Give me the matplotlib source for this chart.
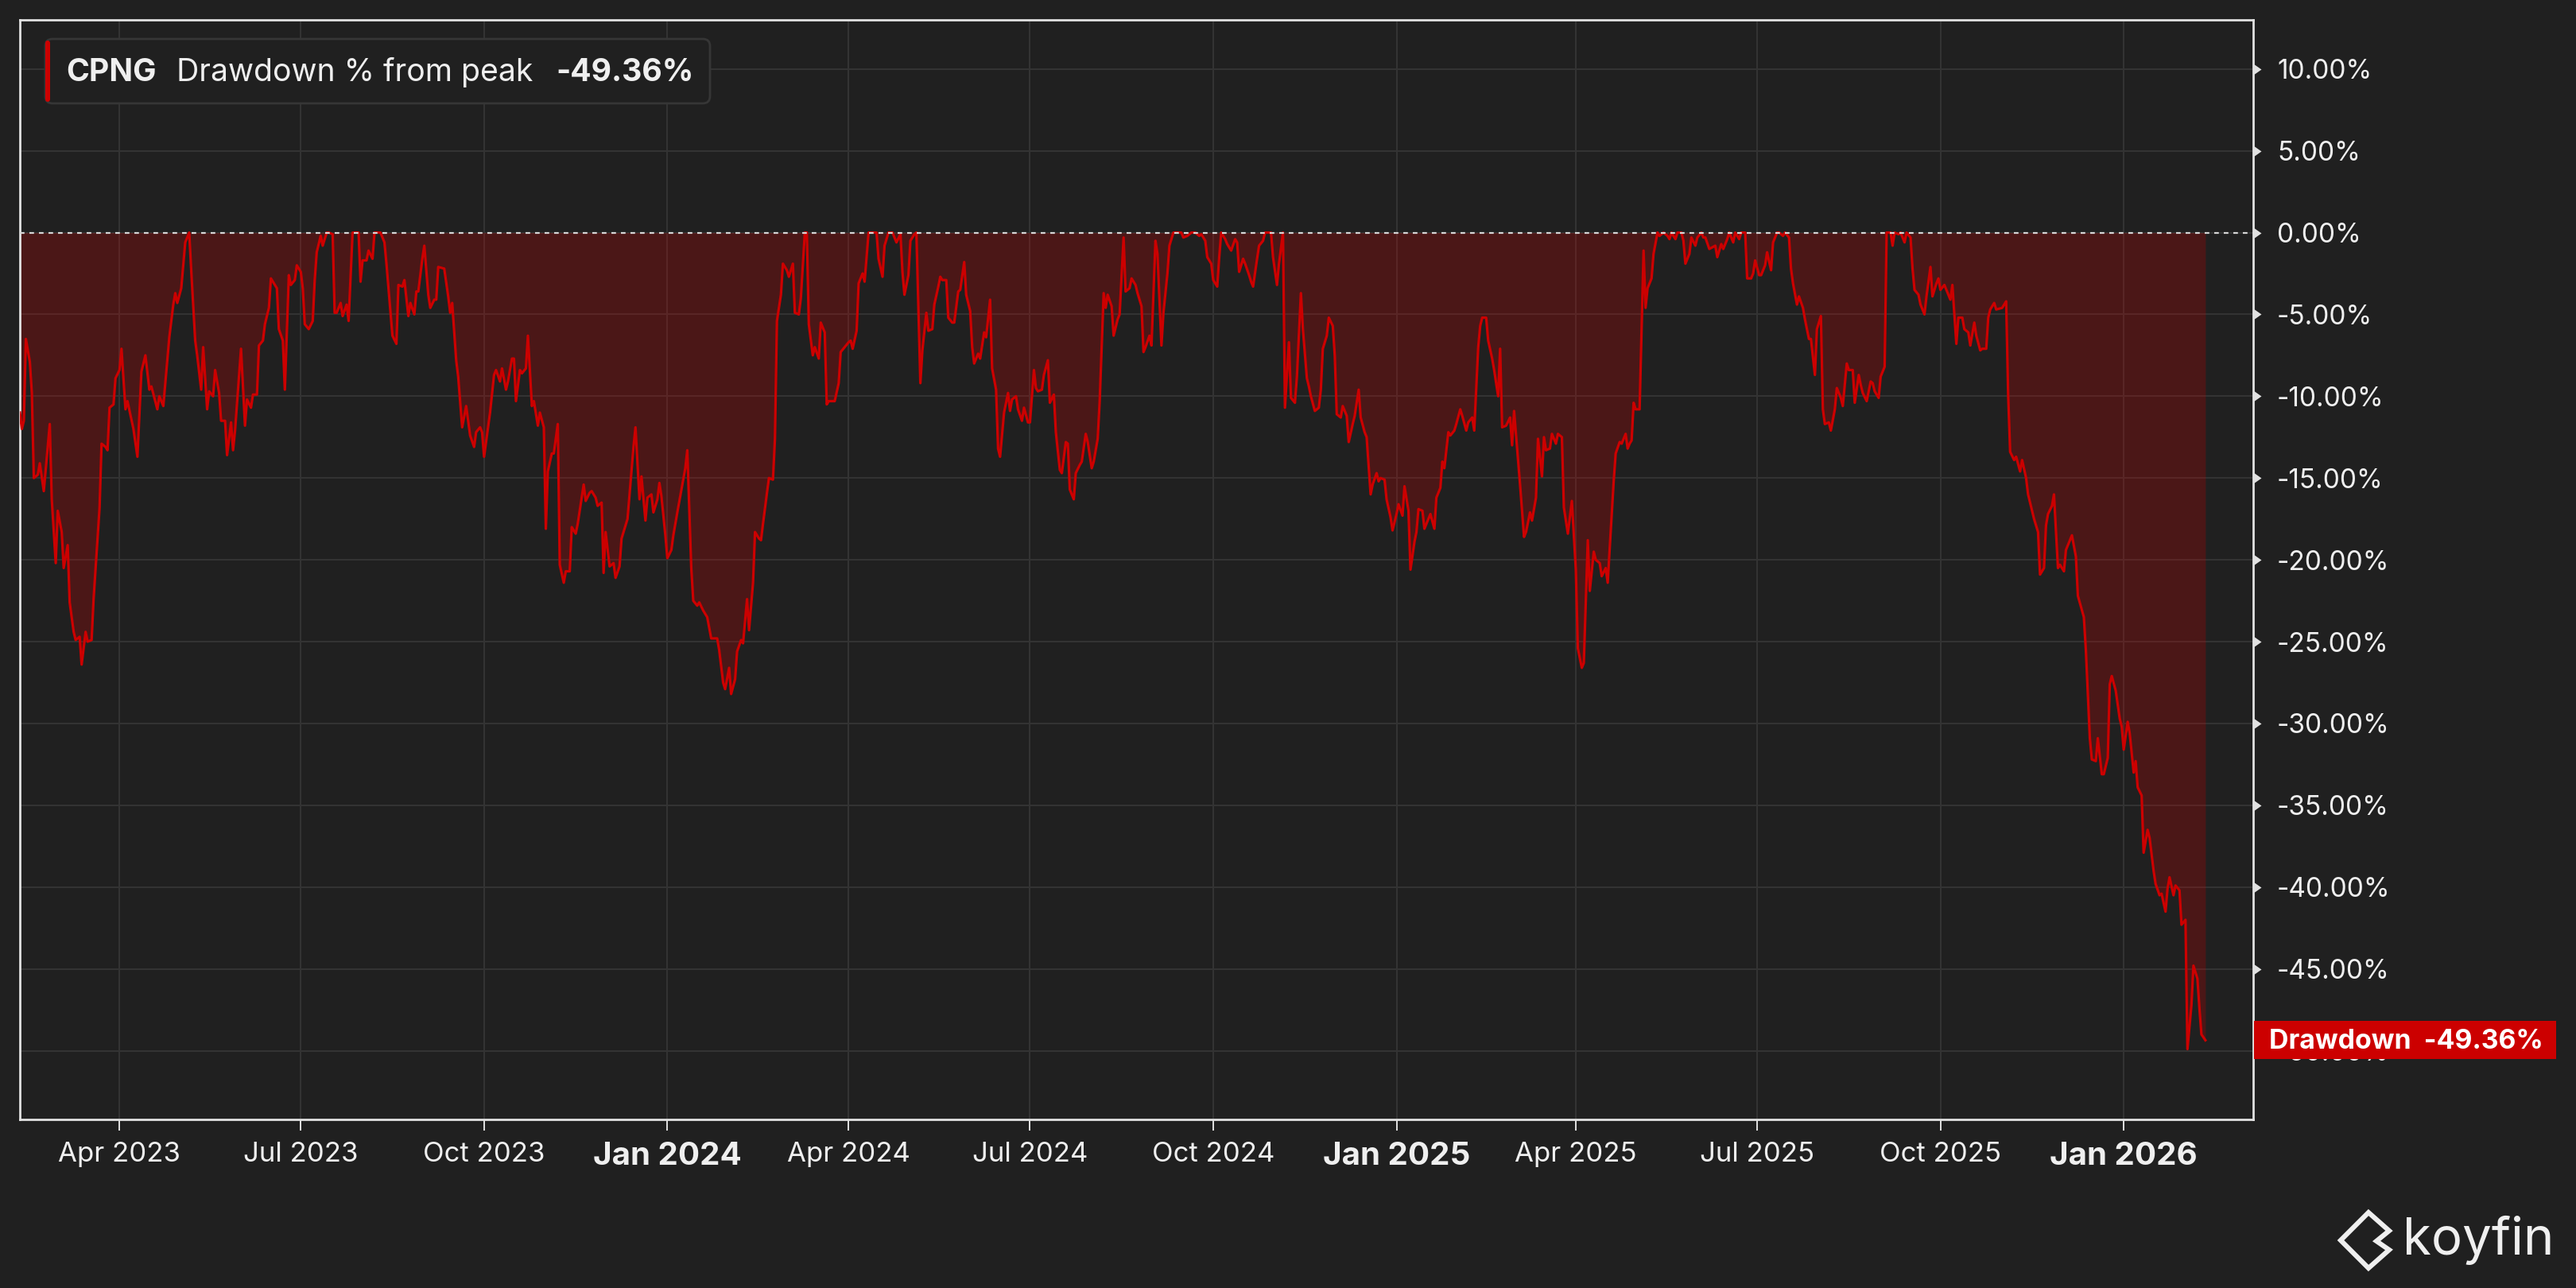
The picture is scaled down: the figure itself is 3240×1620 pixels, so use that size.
import matplotlib
matplotlib.use("Agg")

import matplotlib.pyplot as plt
import pandas as pd
from matplotlib.patches import FancyBboxPatch, Rectangle, Polygon
from matplotlib.path import Path

TICKER = "CPNG"
SERIES_NAME = "Drawdown % from peak"
LAST_LABEL = "-49.36%"
START_DATE = "2023-02-10"
AXIS_DAYS = 1121

# days after START_DATE
day_offset = [
    0, 1, 2, 3, 5, 6, 7, 9, 10, 12,
    15, 16, 18, 19, 21, 22, 24, 25, 27, 28,
    30, 31, 33, 34, 36, 37, 40, 41, 43, 44,
    45, 47, 48, 50, 51, 53, 54, 57, 59, 61,
    63, 65, 66, 69, 70, 72, 73, 75, 77, 78,
    79, 81, 83, 85, 86, 88, 89, 91, 92, 94,
    95, 97, 98, 100, 101, 103, 104, 106, 107, 108,
    111, 113, 114, 116, 117, 119, 120, 122, 123, 125,
    126, 128, 129, 130, 132, 133, 135, 136, 138, 139,
    141, 142, 143, 145, 147, 148, 149, 151, 152, 154,
    155, 157, 158, 159, 161, 162, 164, 165, 167, 170,
    171, 172, 174, 175, 177, 178, 181, 183, 184, 187,
    189, 190, 192, 193, 195, 196, 198, 199, 200, 202,
    203, 205, 206, 208, 209, 210, 213, 215, 216, 217,
    219, 220, 222, 224, 226, 228, 229, 231, 232, 233,
    236, 238, 239, 241, 242, 244, 245, 247, 248, 249,
    251, 252, 254, 255, 257, 258, 260, 261, 263, 264,
    265, 267, 268, 270, 271, 273, 274, 276, 277, 279,
    280, 283, 284, 286, 287, 289, 290, 292, 293, 294,
    296, 298, 299, 301, 302, 305, 308, 309, 311, 312,
    314, 315, 317, 318, 320, 321, 322, 324, 325, 327,
    328, 330, 334, 335, 337, 338, 340, 341, 343, 345,
    347, 350, 351, 353, 354, 356, 357, 359, 360, 362,
    363, 365, 366, 368, 369, 371, 372, 373, 375, 376,
    378, 379, 380, 382, 383, 385, 386, 388, 389, 391,
    392, 394, 395, 396, 398, 399, 401, 402, 404, 405,
    406, 409, 411, 412, 414, 416, 417, 418, 420, 421,
    423, 424, 426, 430, 431, 433, 434, 436, 438, 440,
    442, 443, 444, 446, 447, 449, 450, 452, 453, 455,
    456, 458, 459, 461, 462, 463, 465, 466, 468, 469,
    471, 472, 474, 475, 477, 478, 479, 481, 482, 484,
    485, 487, 488, 490, 491, 492, 494, 496, 497, 498,
    500, 501, 503, 504, 506, 507, 509, 510, 511, 513,
    514, 516, 517, 519, 520, 522, 523, 525, 526, 527,
    529, 530, 532, 533, 535, 536, 538, 539, 541, 542,
    544, 545, 546, 548, 549, 551, 552, 554, 555, 557,
    558, 560, 561, 563, 564, 565, 567, 568, 570, 571,
    573, 574, 576, 577, 579, 583, 584, 586, 588, 590,
    592, 593, 595, 596, 598, 599, 601, 602, 603, 605,
    606, 608, 610, 611, 612, 614, 615, 617, 618, 619,
    621, 622, 624, 625, 628, 629, 631, 632, 634, 635,
    637, 638, 640, 641, 643, 644, 646, 647, 648, 650,
    652, 653, 654, 656, 657, 659, 660, 661, 663, 664,
    666, 667, 669, 670, 672, 673, 675, 676, 678, 679,
    681, 682, 683, 685, 686, 688, 689, 691, 692, 694,
    695, 697, 698, 700, 701, 702, 704, 705, 707, 708,
    710, 711, 713, 714, 715, 717, 718, 720, 721, 723,
    724, 726, 727, 729, 730, 732, 733, 734, 736, 737,
    739, 740, 742, 743, 744, 746, 748, 749, 750, 752,
    753, 755, 756, 758, 759, 761, 762, 764, 765, 766,
    768, 769, 771, 772, 774, 775, 777, 778, 779, 781,
    782, 784, 785, 787, 788, 790, 791, 793, 794, 796,
    797, 798, 800, 801, 803, 804, 806, 807, 808, 809,
    810, 811, 813, 815, 816, 817, 819, 820, 822, 823,
    825, 827, 828, 829, 831, 832, 834, 835, 836, 838,
    839, 841, 842, 844, 845, 846, 848, 851, 852, 854,
    855, 857, 858, 860, 861, 863, 864, 866, 867, 869,
    870, 871, 873, 874, 876, 877, 879, 880, 882, 883,
    885, 886, 888, 889, 890, 892, 893, 895, 896, 898,
    899, 901, 902, 904, 905, 906, 908, 909, 911, 912,
    914, 915, 917, 918, 920, 921, 923, 924, 925, 927,
    929, 930, 931, 933, 934, 936, 937, 939, 940, 941,
    943, 944, 946, 947, 949, 950, 951, 953, 954, 956,
    957, 959, 960, 962, 963, 964, 966, 967, 969, 970,
    972, 973, 975, 976, 978, 979, 981, 982, 984, 985,
    987, 988, 989, 991, 992, 995, 997, 998, 999, 1001,
    1002, 1004, 1005, 1007, 1008, 1010, 1011, 1013, 1014, 1016,
    1017, 1018, 1020, 1021, 1023, 1024, 1026, 1027, 1028, 1030,
    1032, 1033, 1036, 1037, 1039, 1040, 1042, 1043, 1045, 1046,
    1048, 1049, 1050, 1052, 1054, 1055, 1056, 1058, 1059, 1061,
    1062, 1063, 1065, 1066, 1068, 1069, 1071, 1072, 1074, 1075,
    1077, 1078, 1079, 1081, 1082, 1084, 1085, 1087, 1088, 1090,
    1091, 1093, 1094, 1095, 1097,
]

drawdown_pct = [
    -11.0, -12.0, -11.5, -6.5, -7.9, -9.8, -15.0, -14.8, -14.1, -15.8,
    -11.7, -16.3, -20.2, -17.0, -18.3, -20.5, -19.1, -22.6, -24.4, -24.9,
    -24.7, -26.4, -24.4, -25.0, -24.9, -22.4, -16.8, -12.9, -13.1, -13.3,
    -10.7, -10.5, -8.9, -8.4, -7.1, -10.8, -10.3, -12.0, -13.7, -8.5,
    -7.5, -9.6, -9.4, -10.8, -10.0, -10.6, -9.2, -6.4, -4.4, -3.7,
    -4.3, -3.4, -0.6, 0.0, -2.3, -6.6, -7.5, -9.6, -7.0, -10.8,
    -9.7, -10.0, -8.4, -9.8, -11.5, -11.5, -13.6, -11.6, -13.3, -12.1,
    -7.1, -11.8, -10.2, -10.7, -9.9, -9.9, -6.9, -6.6, -5.6, -4.6,
    -2.8, -3.2, -3.4, -5.9, -6.6, -9.6, -2.6, -3.2, -2.9, -2.0,
    -2.4, -3.4, -5.6, -5.9, -5.4, -2.9, -1.2, -0.2, -0.8, 0.0,
    0.0, -0.1, -4.9, -4.9, -4.3, -5.1, -4.4, -5.4, 0.0, 0.0,
    -3.0, -1.7, -1.7, -1.1, -1.6, 0.0, 0.0, -0.6, -1.9, -6.3,
    -6.8, -3.2, -3.3, -2.9, -5.1, -4.3, -5.0, -3.6, -3.6, -1.6,
    -0.8, -3.8, -4.6, -4.1, -4.1, -2.1, -2.2, -3.9, -4.9, -4.3,
    -7.8, -8.8, -11.9, -10.6, -12.4, -13.1, -12.2, -11.9, -12.2, -13.7,
    -11.0, -8.7, -8.4, -9.1, -8.3, -9.6, -9.1, -7.7, -7.7, -10.3,
    -8.4, -8.6, -8.3, -6.3, -10.6, -10.3, -11.8, -11.0, -11.9, -18.1,
    -14.6, -13.5, -13.5, -11.7, -20.3, -21.4, -20.7, -20.7, -18.0, -18.4,
    -17.8, -15.4, -16.4, -15.9, -15.8, -16.2, -16.7, -16.5, -20.8, -18.3,
    -20.4, -20.2, -21.1, -20.4, -18.7, -17.5, -13.1, -11.9, -16.3, -14.9,
    -17.6, -16.2, -16.0, -17.1, -16.3, -15.3, -16.1, -18.5, -19.9, -19.4,
    -18.5, -17.1, -14.4, -13.3, -20.5, -22.5, -22.8, -22.6, -23.1, -23.5,
    -24.8, -24.8, -25.5, -27.5, -27.9, -26.6, -28.2, -27.3, -25.6, -24.9,
    -25.1, -22.4, -24.3, -21.4, -18.3, -18.7, -18.8, -17.8, -15.9, -15.0,
    -15.1, -12.6, -5.4, -3.8, -1.9, -2.3, -2.7, -1.9, -4.9, -5.0,
    -4.0, 0.0, 0.0, -5.6, -7.5, -7.0, -7.7, -5.5, -6.1, -10.5,
    -10.3, -10.3, -9.2, -7.3, -7.0, -6.7, -6.6, -7.1, -6.0, -3.1,
    -2.5, -3.0, 0.0, 0.0, -1.6, -2.7, -0.8, 0.0, 0.0, -0.6,
    -0.1, -2.4, -3.8, -2.6, -0.5, -0.1, 0.0, -9.2, -7.2, -4.9,
    -6.0, -5.9, -4.4, -3.3, -2.7, -2.9, -2.9, -5.2, -5.5, -5.5,
    -3.6, -3.5, -1.8, -3.8, -4.8, -7.0, -8.0, -7.4, -7.7, -6.1,
    -6.4, -4.1, -8.3, -9.6, -13.2, -13.7, -11.0, -9.8, -10.9, -10.2,
    -10.0, -10.8, -11.5, -10.7, -11.6, -11.6, -8.4, -9.5, -9.7, -9.6,
    -8.7, -7.8, -10.4, -9.9, -12.2, -14.5, -14.7, -12.8, -12.9, -15.7,
    -16.3, -14.7, -14.2, -14.0, -12.3, -12.8, -14.4, -14.0, -12.6, -10.3,
    -3.7, -4.6, -3.8, -4.5, -6.3, -5.3, -5.0, -0.3, -3.6, -3.4,
    -2.8, -3.2, -3.7, -4.5, -7.3, -7.0, -6.3, -6.9, -0.5, -1.3,
    -6.9, -4.9, -2.5, -0.8, 0.0, 0.0, -0.3, -0.2, 0.0, 0.0,
    -0.2, -0.1, -0.5, -1.5, -1.9, -2.9, -3.3, -1.5, 0.0, -0.4,
    -0.7, -1.1, -0.4, -0.6, -2.4, -1.6, -1.9, -2.6, -3.0, -3.3,
    -1.6, -0.8, -0.5, 0.0, 0.0, -1.5, -3.2, -1.9, 0.0, -10.7,
    -6.7, -10.1, -10.4, -8.8, -3.7, -5.9, -8.9, -9.4, -10.0, -10.9,
    -10.7, -9.6, -7.1, -6.3, -5.2, -5.7, -7.5, -11.1, -11.3, -10.6,
    -11.2, -12.8, -11.7, -11.2, -9.6, -11.3, -12.2, -12.5, -16.0, -15.4,
    -14.7, -15.2, -15.0, -15.1, -16.3, -17.4, -18.2, -17.2, -16.6, -17.3,
    -15.5, -17.0, -20.6, -18.9, -18.3, -16.9, -17.0, -18.1, -17.5, -17.2,
    -18.1, -16.2, -15.6, -14.0, -14.4, -12.2, -12.4, -12.1, -11.7, -10.8,
    -11.2, -12.1, -11.6, -11.3, -12.1, -7.0, -5.7, -5.2, -5.2, -6.6,
    -7.7, -8.4, -10.0, -7.1, -11.9, -11.8, -11.3, -13.0, -10.9, -13.9,
    -15.4, -18.6, -18.3, -17.1, -17.6, -16.2, -12.6, -14.9, -12.5, -13.3,
    -13.2, -12.3, -12.9, -12.3, -12.5, -16.8, -18.4, -17.4, -16.4, -20.6,
    -25.4, -26.6, -26.3, -18.8, -21.9, -19.5, -20.0, -20.2, -21.0, -20.5,
    -21.4, -19.3, -15.2, -13.5, -12.8, -12.9, -12.3, -13.2, -12.9, -12.7,
    -10.4, -10.8, -10.8, -1.1, -4.6, -3.4, -2.8, -1.3, 0.0, -0.2,
    0.0, -0.2, -0.4, 0.0, -0.4, 0.0, 0.0, -0.5, -1.9, -1.3,
    -0.3, -0.8, -0.3, 0.0, -0.3, -0.3, -1.0, -0.8, -1.5, -0.7,
    -1.0, -0.4, 0.0, -0.6, 0.0, -0.4, 0.0, 0.0, -2.8, -2.8,
    -2.5, -1.7, -2.6, -2.6, -2.0, -1.2, -2.3, -0.6, 0.0, 0.0,
    -0.2, 0.0, -0.3, -2.2, -3.1, -4.4, -3.9, -4.6, -5.3, -6.5,
    -6.5, -8.7, -5.9, -5.1, -10.8, -11.7, -11.6, -12.1, -10.8, -9.5,
    -10.1, -10.6, -8.0, -8.4, -8.4, -10.4, -8.7, -9.3, -9.8, -10.3,
    -9.1, -9.2, -9.7, -10.1, -8.8, -8.2, 0.0, 0.0, -0.8, 0.0,
    -0.1, 0.0, -0.6, 0.0, -0.3, -2.2, -3.5, -3.8, -4.4, -5.0,
    -3.9, -2.1, -3.9, -3.1, -2.8, -3.5, -3.2, -3.5, -4.1, -3.2,
    -6.8, -5.2, -5.2, -5.9, -6.1, -6.9, -5.5, -6.3, -7.2, -7.1,
    -7.1, -5.2, -4.7, -4.3, -4.7, -4.6, -4.2, -9.9, -13.4, -13.9,
    -13.7, -14.6, -13.9, -15.0, -16.0, -17.0, -17.5, -18.3, -20.9, -20.5,
    -17.9, -17.2, -16.7, -16.0, -20.5, -20.3, -20.7, -19.4, -19.1, -18.5,
    -19.8, -22.2, -23.5, -25.5, -30.9, -32.2, -32.3, -30.9, -33.1, -33.1,
    -32.1, -27.6, -27.1, -28.0, -29.7, -30.2, -31.6, -29.9, -30.6, -33.0,
    -32.3, -33.9, -34.4, -37.9, -36.5, -37.0, -39.0, -39.8, -40.5, -40.4,
    -41.5, -40.1, -39.4, -40.5, -39.9, -40.2, -42.3, -42.0, -49.9, -47.2,
    -44.8, -45.6, -47.4, -49.0, -49.36,
]

y_ticks = [10, 5, 0, -5, -10, -15, -20, -25, -30, -35, -40, -45, -50]
x_tick_dates = [
    "2023-04-01", "2023-07-01", "2023-10-01", "2024-01-01",
    "2024-04-01", "2024-07-01", "2024-10-01", "2025-01-01",
    "2025-04-01", "2025-07-01", "2025-10-01", "2026-01-01",
]
x_tick_labels = [
    "Apr 2023", "Jul 2023", "Oct 2023", "Jan 2024",
    "Apr 2024", "Jul 2024", "Oct 2024", "Jan 2025",
    "Apr 2025", "Jul 2025", "Oct 2025", "Jan 2026",
]

BG = "#202020"
GRID = "#333333"
RED = "#cc0000"
TEXT = "#efefef"
SPINE = "#e2e2e2"

plt.rcParams["font.family"] = ["Inter", "DejaVu Sans"]

W, H, DPI = 3240, 1620, 200
L, R, T, B = 25, 2834, 25, 1408

fig = plt.figure(figsize=(W / DPI, H / DPI), dpi=DPI)
fig.patch.set_facecolor(BG)
ax = fig.add_axes([L / W, 1 - B / H, (R - L) / W, (B - T) / H])
ax.set_facecolor(BG)


def px(x, y):
    # reference pixel (origin top-left) -> figure inches
    return x / DPI, (H - y) / DPI


start = pd.Timestamp(START_DATE)
dates = start + pd.to_timedelta(day_offset, unit="D")

ax.fill_between(dates, drawdown_pct, 0, color=RED, alpha=0.25, lw=0, zorder=2)
ax.plot(dates, drawdown_pct, color=RED, lw=1.15, zorder=4)
ax.axhline(0, color="#d6d6d6", lw=0.8, ls=(0, (2.6, 2.8)), zorder=5)

ax.set_xlim(start, start + pd.Timedelta(days=AXIS_DAYS))
ax.set_ylim(-54.2, 13.0)

# right-hand percent axis
ax.set_yticks(y_ticks)
ax.set_yticklabels([f"{v:.2f}%" for v in y_ticks])
ax.yaxis.tick_right()
ax.tick_params(axis="y", length=0, pad=10.8, labelsize=12, labelcolor=TEXT)
tri = Path([(0, -0.7), (1, 0), (0, 0.7), (0, -0.7)],
           [Path.MOVETO, Path.LINETO, Path.LINETO, Path.CLOSEPOLY])
ax.plot([1.0] * len(y_ticks), y_ticks, transform=ax.get_yaxis_transform(),
        ls="none", marker=tri, ms=7.2, color=SPINE, mec="none", clip_on=False, zorder=6)

ax.set_xticks(pd.to_datetime(x_tick_dates))
ax.set_xticklabels(x_tick_labels)
ax.tick_params(axis="x", length=5, width=0.7, color=SPINE, pad=5, labelsize=12.5, labelcolor=TEXT)
for lbl in ax.get_xticklabels():
    if lbl.get_text().startswith("Jan"):
        lbl.set_fontweight("bold")
        lbl.set_fontsize(14.5)

ax.grid(True, color=GRID, lw=0.75)
ax.set_axisbelow(True)
for s in ax.spines.values():
    s.set_color(SPINE)
    s.set_linewidth(1.0)

# legend box top-left
x0, y0 = px(57, 130)
box = FancyBboxPatch((x0, y0), 836 / DPI, 81 / DPI, boxstyle="round,pad=0,rounding_size=0.045",
                     transform=fig.dpi_scale_trans, fc=BG, ec="#363636", lw=1.0, zorder=10)
fig.add_artist(box)
bar = FancyBboxPatch((x0, y0 + 2 / DPI), 6 / DPI, 77 / DPI, boxstyle="round,pad=0,rounding_size=0.015",
                     transform=fig.dpi_scale_trans, fc=RED, ec="none", zorder=11)
fig.add_artist(bar)

renderer = fig.canvas.get_renderer()
cur_x = 83
for txt, weight, gap in [(TICKER, "bold", 26), (SERIES_NAME, "normal", 28), (LAST_LABEL, "bold", 0)]:
    t = fig.text(*px(cur_x, 102), txt, transform=fig.dpi_scale_trans, fontsize=14.1,
                 fontweight=weight, color=TEXT, va="baseline", ha="left", zorder=12)
    bb = t.get_window_extent(renderer)
    cur_x = bb.x1 + gap

# last value label on the right axis
last = drawdown_pct[-1]
px_per_pct = (B - T) / (13.0 + 54.2)
half = 24 / px_per_pct
ax.add_patch(Rectangle((1.0004, last - half), (3215 - 2835) / (R - L), 2 * half,
                       transform=ax.get_yaxis_transform(), fc=RED, ec="none",
                       clip_on=False, zorder=20))
ax.text((2854 - L) / (R - L), last - 11 / px_per_pct, f"Drawdown  {LAST_LABEL}",
        transform=ax.get_yaxis_transform(), fontsize=12.2, fontweight="bold",
        color="white", va="baseline", ha="left", clip_on=False, zorder=21)

# koyfin mark
fig.text(*px(3022, 1578), "koyfin", transform=fig.dpi_scale_trans, fontsize=23.5,
         color=TEXT, va="baseline", ha="left")
logo = [px(2979, 1525), px(3005, 1548), px(2989, 1561), px(3005, 1572), px(2979, 1595), px(2944, 1560)]
fig.add_artist(Polygon(logo, closed=True, fill=False, ec=TEXT, lw=2.2,
                       joinstyle="miter", transform=fig.dpi_scale_trans))

fig.savefig("out.png", dpi=DPI, facecolor=BG)
